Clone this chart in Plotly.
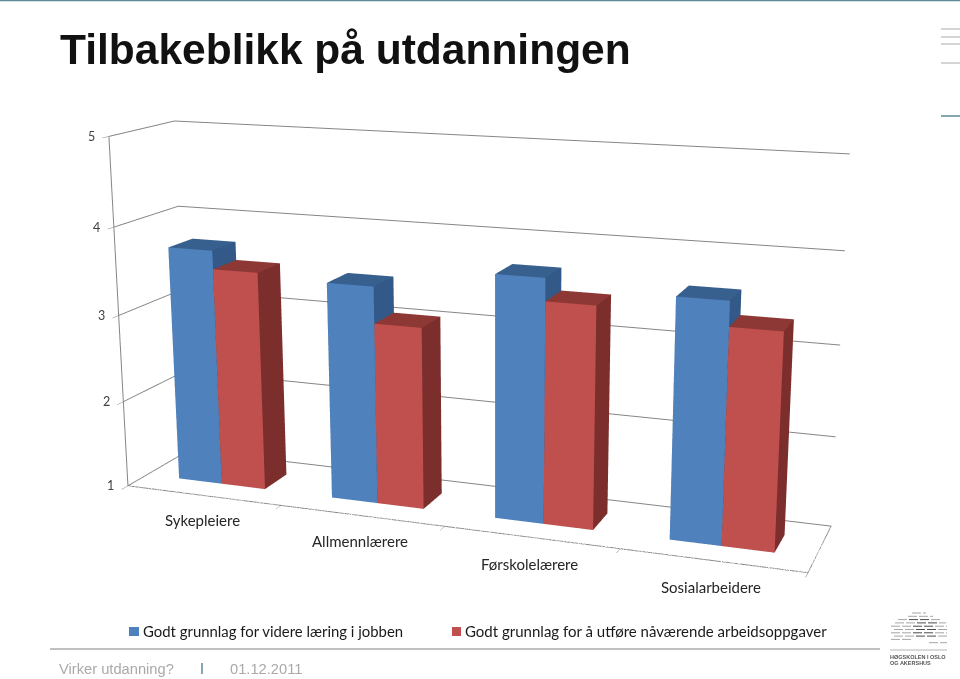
import plotly.graph_objects as go

# ---------- data ----------
categories = ["Sykepleiere", "Allmennlærere", "Førskolelærere", "Sosialarbeidere"]
series_names = ["Godt grunnlag for videre læring i jobben",
                "Godt grunnlag for å utføre nåværende arbeidsoppgaver"]
series_blue = [3.72, 3.46, 3.70, 3.61]
series_red = [3.51, 3.05, 3.45, 3.34]
value_ticks = [1, 2, 3, 4, 5]

title_text = "Tilbakeblikk på utdanningen"
footer_left = "Virker utdanning?"
footer_date = "01.12.2011"
logo_lines = ["HØGSKOLEN I OSLO", "OG AKERSHUS"]

# ---------- style ----------
FIG_W, FIG_H, PAGE_SHIFT = 990, 1450, 388
BLUE = {"front": "#4F81BD", "top": "#38608F", "side": "#325987"}
RED = {"front": "#C0504D", "top": "#8E3836", "side": "#7C2E2D"}
GRID = "#858585"
TEAL = "#5B8A99"
LABEL_SHIFT = [(-1, -25), (-2, -25), (-1, -27), (-1, -27)]

def px(x):
    return x / FIG_W

def py(y):
    return 1 - (y + PAGE_SHIFT) / FIG_H

def cuboid(x0, x1, y0, y1, z, pal, name):
    xs = [x0, x1, x1, x0, x0, x1, x1, x0]
    ys = [y0, y0, y1, y1, y0, y0, y1, y1]
    zs = [1, 1, 1, 1, z, z, z, z]
    tri = [(0, 1, 5, pal["front"]), (0, 5, 4, pal["front"]),
           (1, 2, 6, pal["side"]), (1, 6, 5, pal["side"]),
           (4, 5, 6, pal["top"]), (4, 6, 7, pal["top"]),
           (3, 2, 6, pal["side"]), (3, 6, 7, pal["side"]),
           (0, 3, 7, pal["side"]), (0, 7, 4, pal["side"]),
           (0, 1, 2, pal["side"]), (0, 2, 3, pal["side"])]
    return go.Mesh3d(x=xs, y=ys, z=zs,
                     i=[t[0] for t in tri], j=[t[1] for t in tri], k=[t[2] for t in tri],
                     facecolor=[t[3] for t in tri], flatshading=True, name=name,
                     lighting=dict(ambient=1, diffuse=0, specular=0, fresnel=0, roughness=1),
                     hoverinfo="skip", showscale=False)

GAP, Y0, Y1 = 0.2153, 0.3055, 0.6924
fig = go.Figure()
for i, cat in enumerate(categories):
    fig.add_trace(cuboid(i + GAP, i + 0.5, Y0, Y1, series_blue[i], BLUE, series_names[0]))
    fig.add_trace(cuboid(i + 0.5, i + 1 - GAP, Y0, Y1, series_red[i], RED, series_names[1]))

n = len(categories)
top = value_ticks[-1]
low = value_ticks[0]
for xs, ys, zs in [([0, n, n], [0, 0, 1], [low, low, low]),
                   ([0, 0], [0, 0], [low, top])]:
    fig.add_trace(go.Scatter3d(x=xs, y=ys, z=zs, mode="lines", hoverinfo="skip", showlegend=False,
                               line=dict(color=GRID, width=2)))

scene_notes = []
for v in value_ticks:
    scene_notes.append(dict(x=0, y=0, z=v, text=str(v), showarrow=False, xshift=-17, yshift=0,
                            font=dict(family="Lato", size=12.5, color="#404040")))
for i, cat in enumerate(categories):
    sx, sy = LABEL_SHIFT[i]
    scene_notes.append(dict(x=i + 0.5, y=0, z=low, text=cat, showarrow=False, xshift=sx, yshift=sy,
                            font=dict(family="Lato", size=15, color="#262626")))

plain_axis = dict(showbackground=False, showticklabels=False, zeroline=False, showspikes=False,
                  showline=False, title=dict(text=""))
shapes = []
def line(x0, y0, x1, y1, color, width=1):
    shapes.append(dict(type="line", xref="paper", yref="paper", x0=px(x0), y0=py(y0), x1=px(x1), y1=py(y1),
                       line=dict(color=color, width=width)))
def box(x0, y0, x1, y1, color):
    shapes.append(dict(type="rect", xref="paper", yref="paper", x0=px(x0), y0=py(y0), x1=px(x1), y1=py(y1),
                       line=dict(width=0), fillcolor=color))

line(0, 0.5, 960, 0.5, TEAL, 1.5)
for y in [29, 37, 44, 63]:
    line(941, y, 960, y, "#ABABAB", 1)
line(941, 116, 960, 116, TEAL, 1.5)
line(50, 649, 880, 649, "#ABABAB", 1.5)
line(202, 663, 202, 674, TEAL, 1.5)
box(129, 627, 139, 636, BLUE["front"])
box(452, 627, 461, 636, RED["front"])

# brick-pattern logo
logo_rows = [(912, 926), (905, 933), (898, 940), (892, 946), (891, 947), (891, 947), (891, 947), (891, 947), (891, 912), (926, 947)]
for r, (a, b) in enumerate(logo_rows):
    y = 613 + r * 3.3
    x = a + (r % 2) * 3
    while x < b:
        dark = 908 <= x <= 930 and 1 < r < 8
        line(x, y, min(x + 9, b), y, "#4A4A4A" if dark else "#A6A6A6", 1)
        x += 11
line(890, 650, 947, 650, "#B5B5B5", 1)

def note(x, y, text, size, color, family="Lato", anchor="left", bold=False):
    t = f"<b>{text}</b>" if bold else text
    return dict(xref="paper", yref="paper", x=px(x), y=py(y), text=t, showarrow=False, xanchor=anchor,
                yanchor="middle", align="left", font=dict(family=family, size=size, color=color))

annots = [note(58, 49, title_text, 42.5, "#111111", "Liberation Sans", bold=True),
          note(141, 631, series_names[0], 14.9, "#1A1A1A"),
          note(463, 631, series_names[1], 15, "#1A1A1A"),
          note(57, 669, footer_left, 14.7, "#A9A9A9", "Liberation Sans"),
          note(228, 669, footer_date, 14.7, "#A9A9A9", "Liberation Sans"),
          note(888, 657, logo_lines[0], 5.5, "#555555", "Liberation Sans", bold=True),
          note(888, 663, logo_lines[1], 5.5, "#555555", "Liberation Sans", bold=True)]

fig.update_layout(
    width=FIG_W, height=FIG_H, autosize=False, margin=dict(l=0, r=0, t=0, b=0),
    paper_bgcolor="white", showlegend=False, shapes=shapes, annotations=annots,
    scene=dict(
        domain=dict(x=[0, 1], y=[0, 1]),
        aspectmode="manual", aspectratio=dict(x=1, y=0.1809, z=0.5149),
        camera=dict(eye=dict(x=0.8346, y=-2.2027, z=0.5880),
                    center=dict(x=0.0294, y=0.0319, z=-0.0154),
                    up=dict(x=-0.0065, y=0.0100, z=1)),
        xaxis=dict(plain_axis, range=[0, n], tickvals=list(range(n + 1)), showgrid=False,
                   ticks="outside", ticklen=4, tickcolor=GRID),
        yaxis=dict(plain_axis, range=[0, 1], tickvals=[], showgrid=False),
        zaxis=dict(plain_axis, range=[low, top], tickvals=value_ticks, showgrid=True, gridcolor=GRID,
                   gridwidth=2, ticks="outside", ticklen=4, tickcolor=GRID),
        annotations=scene_notes,
    ),
)

fig.write_html("out.html", config={"displayModeBar": False},
               post_script=("document.body.style.margin='0';"
                            f"document.querySelector('.plotly-graph-div').style.marginTop='-{PAGE_SHIFT}px';"))
